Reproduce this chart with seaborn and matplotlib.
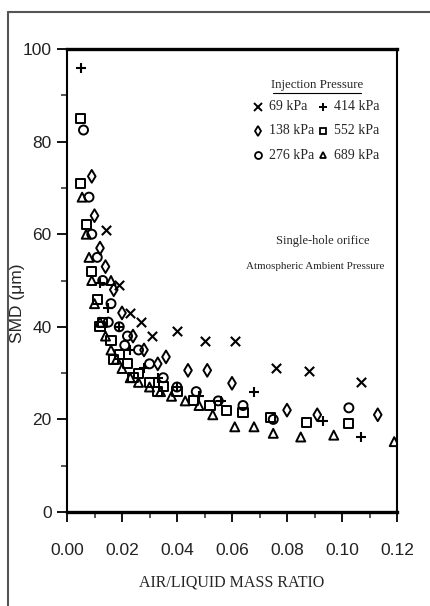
import matplotlib
matplotlib.use("Agg")
import matplotlib.pyplot as plt
from matplotlib.lines import Line2D
import seaborn as sns
import pandas as pd

# ---- data ----
x_69 = [0.014, 0.019, 0.023, 0.027, 0.031, 0.040, 0.050, 0.061, 0.076, 0.088, 0.107]
y_69 = [61, 49, 43, 41, 38, 39, 37, 37, 31, 30.5, 28]

x_138 = [0.009, 0.010, 0.012, 0.014, 0.017, 0.020, 0.024, 0.028, 0.033, 0.036, 0.044, 0.051, 0.060, 0.080, 0.091, 0.113]
y_138 = [72.5, 64, 57, 53, 48, 43, 38, 35, 32, 33.5, 30.6, 30.6, 27.8, 22, 21, 21]

x_276 = [0.006, 0.008, 0.009, 0.011, 0.013, 0.015, 0.016, 0.019, 0.021, 0.022, 0.026, 0.030, 0.035, 0.040, 0.047,
         0.055, 0.064, 0.075, 0.1025]
y_276 = [82.5, 68, 60, 55, 50, 41, 45, 40, 36, 38, 35, 32, 29, 27, 26, 24, 23, 20, 22.5]

x_414 = [0.005, 0.012, 0.015, 0.019, 0.023, 0.028, 0.033, 0.040, 0.048, 0.056, 0.068, 0.093, 0.107]
y_414 = [96, 49.5, 44, 40, 35, 31, 29, 27, 25, 24, 26, 19.7, 16.2]

x_552 = [0.0048, 0.0048, 0.007, 0.009, 0.011, 0.012, 0.013, 0.016, 0.017, 0.019, 0.022, 0.024, 0.026, 0.030, 0.033,
         0.035, 0.040, 0.046, 0.052, 0.058, 0.064, 0.074, 0.087, 0.1025]
y_552 = [85, 71, 62, 52, 46, 40, 41, 37, 33, 34, 32, 29, 30, 28, 26, 27, 26, 24, 23, 22, 21.5, 20.5, 19.4, 19.2]

x_689 = [0.0055, 0.007, 0.008, 0.009, 0.010, 0.012, 0.014, 0.016, 0.016, 0.018, 0.020, 0.023, 0.026, 0.030, 0.034,
         0.038, 0.043, 0.048, 0.053, 0.061, 0.068, 0.075, 0.085, 0.097, 0.119]
y_689 = [68, 60, 55, 50, 45, 41, 38, 35, 50, 33, 31, 29, 28, 27, 26, 25, 24, 23, 21, 18.4, 18.4, 17, 16.2, 16.6, 15.2]

pressures = ["69 kPa", "138 kPa", "276 kPa", "414 kPa", "552 kPa", "689 kPa"]
markers = ["x", "d", "o", "+", "s", "^"]
xs = [x_69, x_138, x_276, x_414, x_552, x_689]
ys = [y_69, y_138, y_276, y_414, y_552, y_689]

x_ticks = [0.00, 0.02, 0.04, 0.06, 0.08, 0.10, 0.12]
y_ticks = [0, 20, 40, 60, 80, 100]

# ---- figure ----
sns.set_style("ticks")
plt.rcParams["font.family"] = ["Liberation Sans", "DejaVu Sans"]

fig = plt.figure(figsize=(4.30, 6.06), dpi=100)
ax = fig.add_axes([67 / 430, 1 - 512 / 606, 330 / 430, 463 / 606])

for p, m, xv, yv in zip(pressures, markers, xs, ys):
    df = pd.DataFrame({"ratio": xv, "smd": yv})
    if m in ("x", "+"):
        sns.scatterplot(data=df, x="ratio", y="smd", marker=m, color="black",
                        s=45, linewidth=1.5, ax=ax)
    else:
        sns.scatterplot(data=df, x="ratio", y="smd", marker=m, facecolor="none",
                        edgecolor="black", s=42, linewidth=1.4, ax=ax)

ax.set_xlim(0, 0.12)
ax.set_ylim(0, 100)
ax.set_xticks(x_ticks)
ax.set_xticklabels([f"{v:.2f}" for v in x_ticks])
ax.set_yticks(y_ticks)
ax.set_xticks([0.01, 0.03, 0.05, 0.07, 0.09, 0.11], minor=True)
ax.set_yticks([10, 30, 50, 70, 90], minor=True)
ax.tick_params(axis="both", which="major", length=7, width=1.3, labelsize=12.5,
               color="black", labelcolor="#222222")
ax.tick_params(axis="both", which="minor", length=4, width=1.1)
ax.tick_params(axis="x", pad=15)
ax.tick_params(axis="y", pad=4)
for side, lw in (("top", 2.4), ("bottom", 2.4), ("left", 1.5), ("right", 1.5)):
    ax.spines[side].set_visible(True)
    ax.spines[side].set_linewidth(lw)
    ax.spines[side].set_color("black")

ax.set_xlabel("AIR/LIQUID MASS RATIO", family=["Liberation Serif"], fontsize=11.5, labelpad=12)
ax.set_ylabel("SMD (\u03bcm)", fontsize=12.5)
ax.yaxis.set_label_coords(-0.128, 0.45)

# legend (manual, like the original)
serif = ["Liberation Serif", "DejaVu Serif"]
ax.text(0.758, 0.922, "Injection Pressure", transform=ax.transAxes, ha="center", va="center",
        family=serif, fontsize=9.3)
ax.add_line(Line2D([0.625, 0.89], [0.906, 0.906], transform=ax.transAxes, color="black", lw=0.8))
rows = [0.875, 0.823, 0.771]
for i, (p, m) in enumerate(zip(pressures, markers)):
    col = i // 3
    r = rows[i % 3]
    mx = 0.579 if col == 0 else 0.776
    tx = 0.613 if col == 0 else 0.810
    if m in ("x", "+"):
        ax.plot([mx], [r], marker=m, color="black", ms=6, mew=1.4, transform=ax.transAxes, clip_on=False)
    else:
        ax.plot([mx], [r], marker=m, mfc="none", mec="black", ms=5, mew=1.3, transform=ax.transAxes, clip_on=False)
    ax.text(tx, r, p, transform=ax.transAxes, ha="left", va="center", family=serif, fontsize=10)

ax.text(0.775, 0.585, "Single-hole orifice", transform=ax.transAxes, ha="center", va="center",
        family=serif, fontsize=9)
ax.text(0.752, 0.530, "Atmospheric Ambient Pressure", transform=ax.transAxes, ha="center", va="center",
        family=serif, fontsize=7.9)

# page border of the scan
fig.add_artist(Line2D([8 / 430, 1.0], [1 - 12 / 606, 1 - 12 / 606], transform=fig.transFigure,
                      color="#555555", lw=1.5))
fig.add_artist(Line2D([8 / 430, 8 / 430], [0, 1 - 12 / 606], transform=fig.transFigure,
                      color="#555555", lw=1.5))

fig.savefig("out.png", dpi=100)
